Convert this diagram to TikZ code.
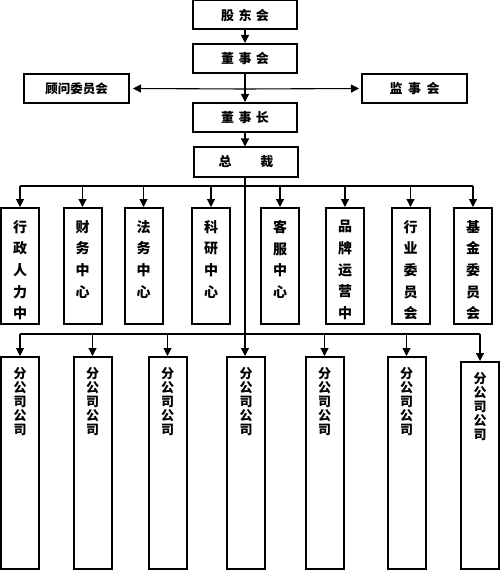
\documentclass[tikz,border=0pt]{standalone}
\usepackage{fontspec}
\setmainfont{Noto Sans CJK SC}
\usetikzlibrary{arrows.meta}
\tikzset{
  box/.style={draw,line width=2pt,fill=white,inner sep=0pt,font=\bfseries\fontsize{13}{13}\selectfont},
  topbox/.style={box,minimum width=104pt,minimum height=29pt},
  cbox/.style={box,minimum width=38pt,minimum height=116pt},
  fbox/.style={box,minimum width=38pt,minimum height=212pt},
  ctext/.style={inner sep=0pt,align=center,anchor=north,font=\bfseries\fontsize{14}{21.7}\selectfont},
  ftext/.style={inner sep=0pt,align=center,anchor=north,font=\bfseries\fontsize{13}{14}\selectfont},
  conn/.style={line width=1.1pt},
  arr/.style={conn,-{Triangle[length=8pt,width=8pt]}}
}
\begin{document}
\begin{tikzpicture}[x=1pt,y=-1pt]
\useasboundingbox (0,0) rectangle (500,572);
% top boxes
\node[topbox] (sh) at (245,15) {股\hspace{4.5pt}东\hspace{4.5pt}会};
\node[topbox] (dsh) at (245,58.5) {董\hspace{4.5pt}事\hspace{4.5pt}会};
\node[topbox,minimum width=105pt,font=\bfseries\fontsize{12.5}{12.5}\selectfont] (gw) at (76.5,88.5) {顾问委员会};
\node[topbox,minimum width=105pt] (js) at (414.5,88.5) {监\hspace{5.5pt}事\hspace{5.5pt}会};
\node[topbox] (dsz) at (245,117.5) {董\hspace{4.5pt}事\hspace{4.5pt}长};
\node[topbox,minimum width=104pt] (zc) at (246,162) {总\hspace{29pt}裁};
% centers
\foreach \n/\x/\t in {c1/20/{行\\政\\人\\力\\中},c2/82.5/{财\\务\\中\\心},c3/143.5/{法\\务\\中\\心},c4/211/{科\\研\\中\\心},c5/280/{客\\服\\中\\心},c6/345/{品\\牌\\运\\营\\中},c7/410.5/{行\\业\\委\\员\\会},c8/473/{基\\金\\委\\员\\会}}{
  \node[cbox] (\n) at (\x,266) {};
  \node[ctext] (\n t) at ([yshift=-13pt]\n.north) {\t};
}
% companies
\foreach \n/\x/\h/\c in {f1/20/212/463,f2/92.5/212/463,f3/167.5/212/463,f4/246/212/463,f5/324.5/212/463,f6/406.5/212/463,f7/480/207/465.5}{
  \node[fbox,minimum height=\h pt] (\n) at (\x,\c) {};
  \node[ftext] (\n t) at ([yshift=-11pt]\n.north) {分\\公\\司\\公\\司};
}
% connectors
\draw[arr] (sh) -- (dsh);
\draw[arr] (dsh.south) -- (dsh.south |- dsz.north);
\coordinate (hub) at (245,89);
\draw[arr,shorten >=3pt] (hub) -- (gw.east);
\draw[arr,shorten >=2pt] (hub) -- (js.west);
\draw[arr] (dsz.south) -- (dsz.south |- zc.north);
\draw[arr] (zc.south -| dsz.south) -- (dsz.south |- f4.north);
\coordinate (b1L) at (20,186);
\coordinate (b1R) at (473,186);
\draw[conn] (b1L) -- (b1R);
\foreach \n in {c1,c2,c3,c4,c5,c6,c7,c8}{
  \draw[arr] (\n.north |- b1L) -- (\n.north);
}
\coordinate (b2L) at (20,334);
\coordinate (b2R) at (480,334);
\draw[conn] (b2L) -- (b2R);
\foreach \n in {f1,f2,f3,f5,f6,f7}{
  \draw[arr] (\n.north |- b2L) -- (\n.north);
}
\end{tikzpicture}
\end{document}
